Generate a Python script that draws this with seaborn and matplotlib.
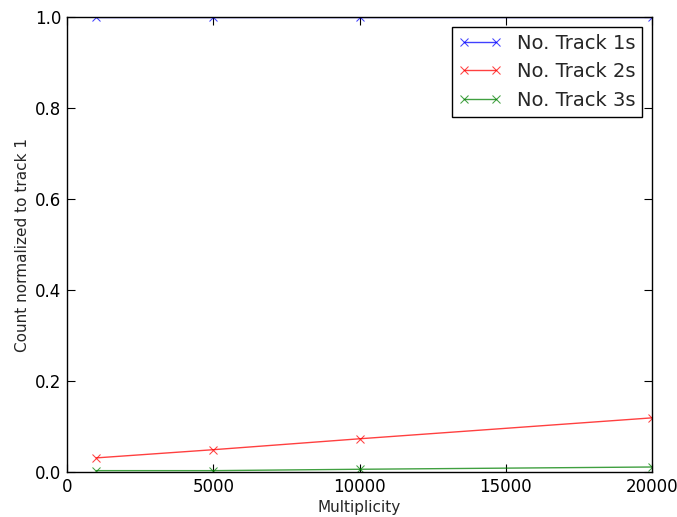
import matplotlib
matplotlib.use("Agg")
import matplotlib.pyplot as plt
import seaborn as sns
import pandas as pd

multiplicity = [1000, 5000, 10000, 20000]
track1 = [1.0, 1.0, 1.0, 1.0]
track2 = [0.031, 0.049, 0.073, 0.119]
track3 = [0.003, 0.003, 0.006, 0.011]
labels = ["No. Track 1s", "No. Track 2s", "No. Track 3s"]
colors = ["#0000ff", "#ff0000", "#008000"]

sns.set_style("ticks")
plt.rcParams["font.family"] = ["DejaVu Sans"]

fig = plt.figure(figsize=(6.77, 5.17), dpi=100)
ax = fig.add_axes([67/677, 1-472/517, (652-67)/677, (472-17)/517])

for ys, lab, c in zip([track1, track2, track3], labels, colors):
    df = pd.DataFrame({"x": multiplicity, "y": ys})
    sns.lineplot(data=df, x="x", y="y", ax=ax, color=c, marker="x", markersize=6,
                 markeredgecolor=c, linewidth=1, label=lab, alpha=0.75)

ax.set_xlim(0, 20000)
ax.set_ylim(0, 1.0)
ax.set_xticks([0, 5000, 10000, 15000, 20000])
ax.set_yticks([0, 0.2, 0.4, 0.6, 0.8, 1.0])
ax.set_yticklabels(["0.0", "0.2", "0.4", "0.6", "0.8", "1.0"])
ax.tick_params(direction="in", top=True, right=True, labelsize=12, length=6, width=0.8,
               colors="black", pad=4)
for s in ax.spines.values():
    s.set_color("black")
    s.set_linewidth(1)
ax.set_xlabel("Multiplicity", fontsize=11, labelpad=3)
ax.set_ylabel("Count normalized to track 1", fontsize=11)
leg = ax.legend(loc="upper right", fontsize=14, frameon=True, fancybox=False,
                edgecolor="black", framealpha=1, borderpad=0.35, handlelength=2.2,
                numpoints=2, borderaxespad=0.5, labelspacing=0.5)
leg.get_frame().set_linewidth(1)

fig.savefig("out.png", dpi=100)
